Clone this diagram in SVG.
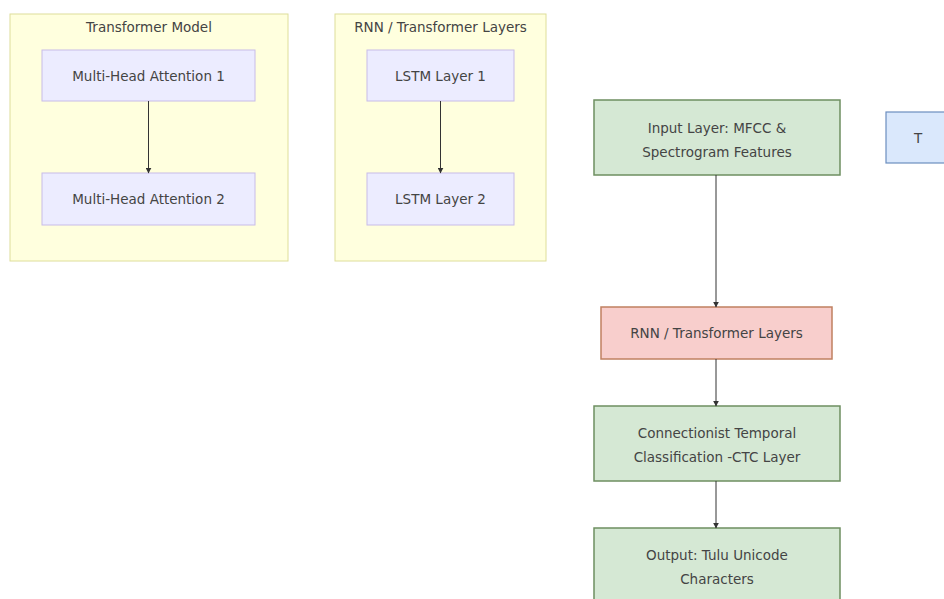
<svg xmlns="http://www.w3.org/2000/svg" width="944" height="599" viewBox="0 0 944 599">
<defs>
<style>
text{font-family:"DejaVu Sans","Liberation Sans",sans-serif;font-size:13.5px;fill:#444;text-anchor:middle;dominant-baseline:central}
.cl{fill:#ffffde;stroke:#dede9a;stroke-width:1}
.nd{fill:#ececff;stroke:#c8bce8;stroke-width:1}
.gr{fill:#d5e8d4;stroke:#6e8f60;stroke-width:1.5}
.rd{fill:#f8cecc;stroke:#c08060;stroke-width:1.5}
.bl{fill:#dae8fc;stroke:#6c8ebf;stroke-width:1.2}
.ed{stroke:#333;stroke-width:1;fill:none;marker-end:url(#ah)}
</style>
<marker id="ah" viewBox="0 0 10 10" refX="9" refY="5" markerWidth="6" markerHeight="6" orient="auto"><path d="M0,0L10,5L0,10z" fill="#333"/></marker>
</defs>
<rect width="944" height="599" fill="#fff"/>
<g id="cluster-transformer">
<rect class="cl" x="10" y="14" width="278" height="247"/>
<text x="149" y="27">Transformer Model</text>
</g>
<g id="cluster-rnn">
<rect class="cl" x="335" y="14" width="211" height="247"/>
<text x="440.5" y="27">RNN / Transformer Layers</text>
</g>
<g id="mha1">
<rect class="nd" x="42" y="50" width="213" height="51"/>
<text x="148.5" y="76">Multi-Head Attention 1</text>
</g>
<g id="mha2">
<rect class="nd" x="42" y="173" width="213" height="52"/>
<text x="148.5" y="199">Multi-Head Attention 2</text>
</g>
<g id="lstm1">
<rect class="nd" x="367" y="50" width="147" height="51"/>
<text x="440.5" y="76">LSTM Layer 1</text>
</g>
<g id="lstm2">
<rect class="nd" x="367" y="173" width="147" height="52"/>
<text x="440.5" y="199">LSTM Layer 2</text>
</g>
<g id="input">
<rect class="gr" x="594" y="100" width="246" height="75"/>
<text x="717" y="128">Input Layer: MFCC &amp;</text>
<text x="717" y="152">Spectrogram Features</text>
</g>
<g id="rnn">
<rect class="rd" x="601" y="307" width="231" height="52"/>
<text x="716.5" y="333">RNN / Transformer Layers</text>
</g>
<g id="ctc">
<rect class="gr" x="594" y="406" width="246" height="75"/>
<text x="717" y="433">Connectionist Temporal</text>
<text x="717" y="457">Classification -CTC Layer</text>
</g>
<g id="output">
<rect class="gr" x="594" y="528" width="246" height="75"/>
<text x="717" y="555">Output: Tulu Unicode</text>
<text x="717" y="579">Characters</text>
</g>
<g id="t">
<rect class="bl" x="886" y="112" width="64" height="51"/>
<text x="918" y="138">T</text>
</g>
<g id="connectors">
<path class="ed" d="M148.5,101V173"/>
<path class="ed" d="M440.5,101V173"/>
<path class="ed" d="M716,175V307"/>
<path class="ed" d="M716,359V406"/>
<path class="ed" d="M716,481V528"/>
</g>
</svg>
